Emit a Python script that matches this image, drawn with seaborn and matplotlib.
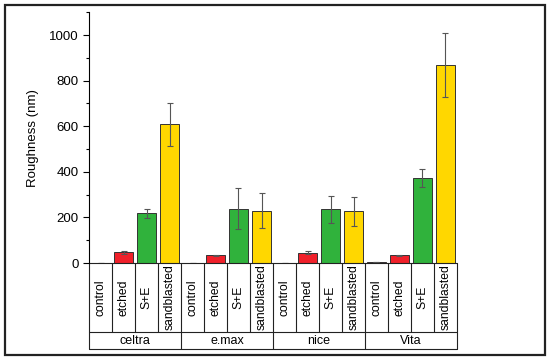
import numpy as np
import pandas as pd
import matplotlib
matplotlib.use("Agg")
import matplotlib.pyplot as plt
import seaborn as sns
from matplotlib.patches import Rectangle
from matplotlib.ticker import MultipleLocator

# -----------------------------------
# DATA
# -----------------------------------

groups = ["celtra", "e.max", "nice", "Vita"]
treatments = ["control", "etched", "S+E", "sandblasted"]

celtra_vals = [1, 47, 218, 608]
emax_vals = [1, 33, 238, 230]
nice_vals = [1, 45, 235, 227]
vita_vals = [3, 34, 373, 868]

celtra_err = [0, 6, 20, 95]
emax_err = [0, 3, 90, 78]
nice_err = [0, 7, 60, 63]
vita_err = [0, 3, 40, 140]

colors = ["#F0202A", "#F0202A", "#30B23C", "#FFD700"]

values = celtra_vals + emax_vals + nice_vals + vita_vals
errors = celtra_err + emax_err + nice_err + vita_err

df = pd.DataFrame({
    "group": np.repeat(groups, len(treatments)),
    "treatment": treatments * len(groups),
    "value": values,
    "err": errors,
})
df["bar"] = df["group"] + "|" + df["treatment"]

# -----------------------------------
# FIGURE
# -----------------------------------

sns.set_style("ticks", {"text.color": "black", "axes.labelcolor": "black",
                        "xtick.color": "black", "ytick.color": "black",
                        "axes.edgecolor": "black"})
plt.rcParams["font.family"] = ["Liberation Sans", "DejaVu Sans"]

fig = plt.figure(figsize=(5.5, 3.61), dpi=100)
ax = fig.add_axes([89 / 550, 1 - 263 / 361, 368 / 550, 250.8 / 361])

sns.barplot(
    data=df,
    x="bar",
    y="value",
    hue="treatment",
    palette=dict(zip(treatments, colors)),
    saturation=1,
    dodge=False,
    errorbar=None,
    width=0.8,
    edgecolor="#333333",
    linewidth=0.7,
    legend=False,
    ax=ax,
)

ax.errorbar(
    np.arange(len(df)),
    df["value"],
    yerr=df["err"],
    fmt="none",
    ecolor="#555555",
    elinewidth=0.8,
    capsize=2.5,
    capthick=0.8,
)

ax.set_xlim(-0.5, len(df) - 0.5)
ax.set_ylim(0, 1100)
ax.yaxis.set_major_locator(MultipleLocator(200))
ax.yaxis.set_minor_locator(MultipleLocator(100))
ax.tick_params(axis="y", which="major", length=4, width=0.8, labelsize=9.5, direction="out")
ax.tick_params(axis="y", which="minor", length=2.5, width=0.8, direction="out")
ax.set_xticks([])
ax.set_xlabel("")
ax.set_ylabel("Roughness (nm)", fontsize=9.5)
ax.yaxis.set_label_coords(-0.135, 0.5)

for side in ["top", "right", "bottom"]:
    ax.spines[side].set_visible(False)
ax.spines["left"].set_linewidth(0.8)

# -----------------------------------
# CATEGORY TABLE BELOW AXIS
# -----------------------------------

n = len(df)
row1 = -69 / 250.8
row2 = -86 / 250.8
trans = ax.get_xaxis_transform()
lk = dict(color="#222222", lw=0.8, transform=trans, clip_on=False)

ax.plot([-0.5, n - 0.5], [0, 0], **lk)
ax.plot([-0.5, n - 0.5], [row1, row1], **lk)
ax.plot([-0.5, n - 0.5], [row2, row2], **lk)
for i in range(n + 1):
    ax.plot([i - 0.5, i - 0.5], [0, row1], **lk)
for g in range(len(groups) + 1):
    x = g * len(treatments) - 0.5
    ax.plot([x, x], [row1, row2], **lk)

for i, t in enumerate(df["treatment"]):
    ax.text(i, row1 / 2, t, rotation=90, ha="center", va="center",
            fontsize=8.7, transform=trans, clip_on=False)
for g, name in enumerate(groups):
    ax.text(g * len(treatments) + 1.5, (row1 + row2) / 2, name,
            ha="center", va="center", fontsize=9, transform=trans, clip_on=False)

# outer frame
fig.patches.append(Rectangle((5 / 550, 6 / 361), 540 / 550, 350 / 361,
                             transform=fig.transFigure, fill=False,
                             edgecolor="#222222", linewidth=1.6))

fig.savefig("out.png", dpi=100)
